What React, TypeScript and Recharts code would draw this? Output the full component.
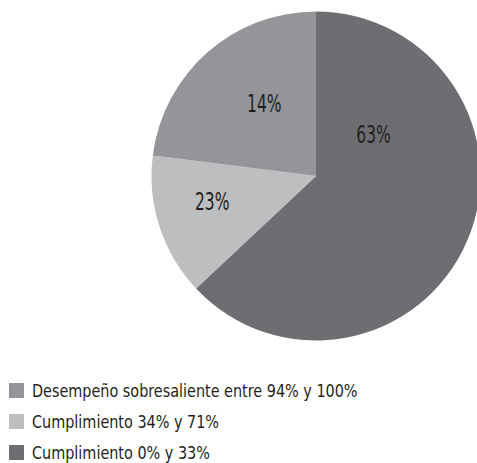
import React from "react";
import { PieChart, Pie, Cell, Legend } from "recharts";

// Slices in drawing order (clockwise from 12 o'clock)
const sliceNames = [
  "Cumplimiento 0% y 33%",
  "Cumplimiento 34% y 71%",
  "Desempeño sobresaliente entre 94% y 100%",
];
const sliceValues = [63, 14, 23];
const sliceLabels = ["63%", "23%", "14%"];
const sliceColors = ["#6d6e71", "#bcbec0", "#939598"];

// Legend order (top to bottom)
const legendOrder = [2, 1, 0];

// Label placement inside each slice: fraction along the arc and fraction of radius
const labelArcFrac = [0.24, 0.58, 0.57];
const labelRadiusFrac = [0.43, 0.65, 0.54];

const FONT = "'DejaVu Sans Condensed', 'DejaVu Sans', sans-serif";

const data = sliceNames.map((name, i) => ({
  name,
  value: sliceValues[i],
  label: sliceLabels[i],
}));

const RADIAN = Math.PI / 180;

const renderLabel = (props: any) => {
  const { cx, cy, startAngle, endAngle, outerRadius, index } = props;
  const ang = startAngle + labelArcFrac[index] * (endAngle - startAngle);
  const r = outerRadius * labelRadiusFrac[index];
  const x = cx + r * Math.cos(-ang * RADIAN);
  const y = cy + r * Math.sin(-ang * RADIAN);
  return (
    <text
      x={0}
      y={0}
      transform={`translate(${x},${y}) scale(0.72,1)`}
      textAnchor="middle"
      dominantBaseline="central"
      fill="#231f20"
      style={{ fontFamily: FONT, fontSize: 24 }}
    >
      {sliceLabels[index]}
    </text>
  );
};

const LegendContent = () => (
  <div style={{ fontFamily: FONT, fontSize: 18.5, lineHeight: "20px", color: "#231f20" }}>
    {legendOrder.map((i) => (
      <div
        key={i}
        style={{
          display: "flex",
          alignItems: "center",
          height: 31,
          whiteSpace: "nowrap",
        }}
      >
        <span
          style={{
            display: "inline-block",
            width: 15,
            height: 15,
            background: sliceColors[i],
            marginLeft: 9,
            marginRight: 8,
            flex: "none",
          }}
        />
        <span
          style={{
            display: "inline-block",
            transform: "scaleX(0.865)",
            transformOrigin: "left center",
          }}
        >
          {sliceNames[i]}
        </span>
      </div>
    ))}
  </div>
);

export default function App() {
  return (
    <div style={{ position: "absolute", left: 0, top: 0, width: 477, height: 463, background: "#fff" }}>
      <PieChart width={477} height={463} margin={{ top: 0, right: 0, bottom: 0, left: 0 }}>
        <Pie
          data={data}
          dataKey="value"
          nameKey="name"
          cx={316}
          cy={176}
          outerRadius={164.5}
          startAngle={90}
          endAngle={-270}
          stroke="none"
          label={renderLabel}
          labelLine={false}
          isAnimationActive={false}
        >
          {data.map((d, i) => (
            <Cell key={d.name} fill={sliceColors[i]} />
          ))}
        </Pie>
        <Legend
          content={<LegendContent />}
          layout="horizontal"
          verticalAlign="bottom"
          align="left"
          wrapperStyle={{ position: "absolute", left: 0, top: 375, bottom: "auto", width: 477 }}
        />
      </PieChart>
    </div>
  );
}
